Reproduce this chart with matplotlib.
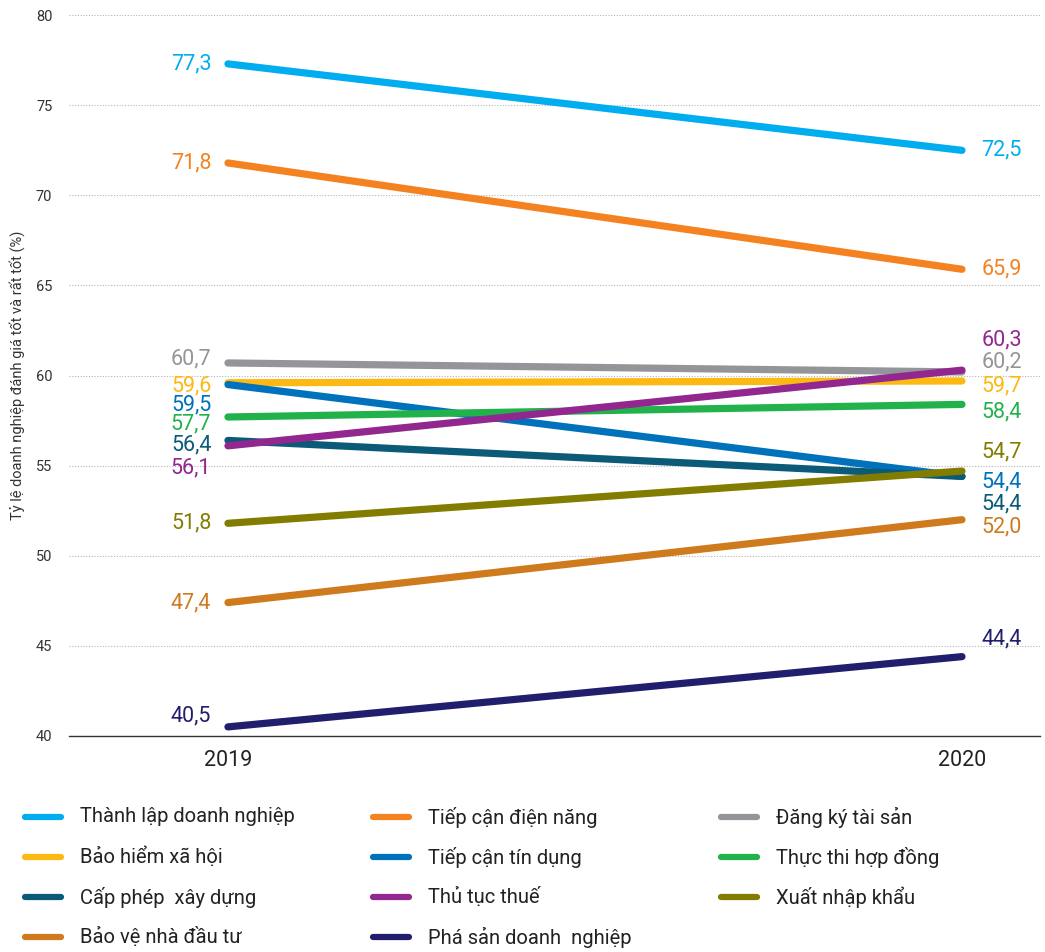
import matplotlib.pyplot as plt
from matplotlib.lines import Line2D

plt.rcParams['font.family'] = ['Roboto', 'DejaVu Sans']

years = [2019, 2020]
names = ['Thành lập doanh nghiệp', 'Tiếp cận điện năng', 'Đăng ký tài sản',
         'Bảo hiểm xã hội', 'Tiếp cận tín dụng', 'Thực thi hợp đồng',
         'Cấp phép  xây dựng', 'Thủ tục thuế', 'Xuất nhập khẩu',
         'Bảo vệ nhà đầu tư', 'Phá sản doanh  nghiệp']
v2019 = [77.3, 71.8, 60.7, 59.6, 59.5, 57.7, 56.4, 56.1, 51.8, 47.4, 40.5]
v2020 = [72.5, 65.9, 60.2, 59.7, 54.4, 58.4, 54.4, 60.3, 54.7, 52.0, 44.4]
colors = ['#00aeef', '#f58220', '#939598', '#fdb913', '#0072bc', '#22b24c',
          '#0b5a78', '#92278f', '#827d00', '#cf7a1c', '#221e6e']

# nudges so the stacked value labels don't collide
off_left = [0, 0, 0.2, -0.15, -1.15, -0.4, -0.25, -1.2, 0, 0, 0.6]
off_right = [0, 0, 0.55, -0.25, -0.3, -0.4, -1.55, 1.65, 1.05, -0.4, 1.0]

fig = plt.figure(figsize=(10.45, 9.52), dpi=100)
ax = fig.add_axes([0.066, 0.227, 0.929, 0.757])

for i in range(len(names)):
    ax.plot(years, [v2019[i], v2020[i]], color=colors[i], lw=5.2,
            solid_capstyle='round', zorder=3)
    ax.annotate(f'{v2019[i]:.1f}'.replace('.', ','), (years[0], v2019[i] + off_left[i]),
                xytext=(-12, 0), textcoords='offset points', ha='right', va='center',
                color=colors[i], fontsize=15.5)
    ax.annotate(f'{v2020[i]:.1f}'.replace('.', ','), (years[1], v2020[i] + off_right[i]),
                xytext=(14, 0), textcoords='offset points', ha='left', va='center',
                color=colors[i], fontsize=15.5)

ax.set_xlim(2019 - 0.2166, 2020 + 0.106)
ax.set_ylim(40, 80)
ax.set_yticks(range(40, 81, 5))
ax.set_xticks(years)
ax.set_xticklabels([str(y) for y in years])
ax.tick_params(axis='y', length=0, labelsize=10.5, colors='#333333', pad=12)
ax.tick_params(axis='x', length=0, labelsize=15.5, colors='#222222', pad=10)
for y in range(45, 81, 5):
    ax.axhline(y, color='#b5b5b5', lw=0.8, ls=(0, (1, 1.5)), zorder=1)
for s in ['top', 'right', 'left']:
    ax.spines[s].set_visible(False)
ax.spines['bottom'].set_color('#333333')
ax.spines['bottom'].set_linewidth(1.0)
ax.set_ylabel('Tỷ lệ doanh nghiệp đánh giá tốt và rất tốt (%)', fontsize=10.5,
              color='#333333', labelpad=8)

# legend laid out row by row in three columns
col_x = [25, 373, 721]
row_y = [817, 857, 897, 937]
W, H = 1045, 952
for i, name in enumerate(names):
    cx = col_x[i % 3]
    ry = row_y[i // 3]
    fig.add_artist(Line2D([(cx) / W, (cx + 36) / W], [1 - ry / H, 1 - ry / H],
                          color=colors[i], lw=4.5, solid_capstyle='round'))
    fig.text((cx + 55) / W, 1 - ry / H, name, fontsize=14.5, va='center',
             ha='left', color='#222222')

fig.savefig('out.png', dpi=100)
